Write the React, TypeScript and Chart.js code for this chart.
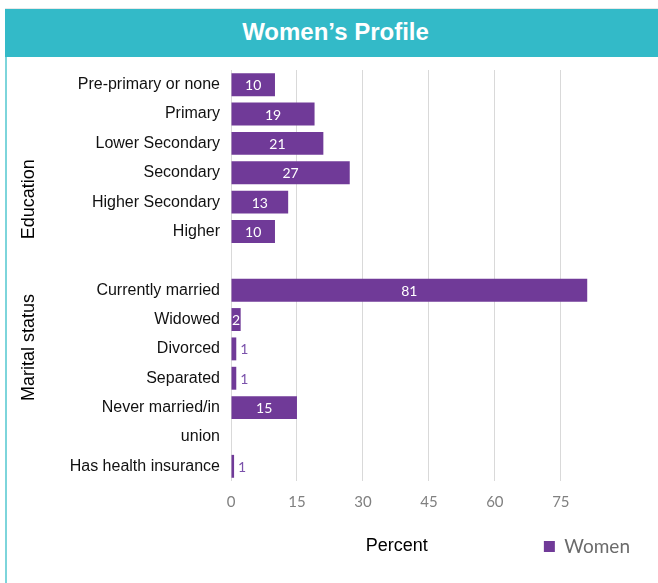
import React, { useEffect, useRef } from "react";
import { Chart, registerables } from "chart.js";

Chart.register(...registerables);

const categories: string[] = [
  "Pre-primary or none",
  "Primary",
  "Lower Secondary",
  "Secondary",
  "Higher Secondary",
  "Higher",
  "",
  "Currently married",
  "Widowed",
  "Divorced",
  "Separated",
  "Never married/in",
  "union",
  "Has health insurance",
];

const womenValues: (number | null)[] = [10, 19, 21, 27, 13, 10, null, 81, 2.2, 1.2, 1.2, 15, null, 0.7];

const xTickValues: number[] = [0, 15, 30, 45, 60, 75];

const groupLabels: string[] = ["Education", "Marital status"];
const groupCenters: number[] = [3.9, 8.95];

const seriesName = "Women";
const axisTitle = "Percent";
const chartTitle = "Women\u2019s Profile";

const PURPLE = "#703a98";

export default function App() {
  const ref = useRef<HTMLCanvasElement | null>(null);

  useEffect(() => {
    if (!ref.current) return;
    const extras = {
      id: "extras",
      afterDatasetsDraw(chart: any) {
        const ctx = chart.ctx;
        const meta = chart.getDatasetMeta(0);
        ctx.save();
        ctx.font = "14px Lato";
        ctx.textBaseline = "middle";
        meta.data.forEach((bar: any, i: number) => {
          const v = womenValues[i];
          if (v === null || v === undefined) return;
          const label = String(Math.round(v));
          if (v >= 2) {
            ctx.fillStyle = "#ffffff";
            ctx.textAlign = "center";
            ctx.fillText(label, (bar.x + bar.base) / 2, bar.y + 1);
          } else {
            ctx.fillStyle = "#7b52ab";
            ctx.textAlign = "left";
            ctx.fillText(label, bar.x + 4, bar.y + 1);
          }
        });
        ctx.restore();
      },
      afterDraw(chart: any) {
        const ctx = chart.ctx;
        const y = chart.scales.y;
        const area = chart.chartArea;
        ctx.save();
        ctx.fillStyle = "#000000";
        ctx.font = "18px 'Liberation Sans', Arial";
        ctx.textAlign = "center";
        ctx.textBaseline = "middle";
        groupLabels.forEach((g, i) => {
          const cy = y.getPixelForValue(groupCenters[i]);
          ctx.save();
          ctx.translate(29, cy);
          ctx.rotate(-Math.PI / 2);
          ctx.fillText(g, 0, 0);
          ctx.restore();
        });
        const legendItem = chart.legend && chart.legend.legendHitBoxes && chart.legend.legendHitBoxes[0];
        const ty = legendItem ? legendItem.top + legendItem.height / 2 : area.bottom + 65;
        ctx.fillText(axisTitle, area.left + (area.right - area.left) * 0.405, ty);
        ctx.restore();
      },
    };

    const chart = new Chart(ref.current, {
      type: "bar",
      data: {
        labels: categories,
        datasets: [
          {
            label: seriesName,
            data: womenValues,
            backgroundColor: PURPLE,
            borderWidth: 0,
            barPercentage: 0.78,
            categoryPercentage: 1,
          },
        ],
      },
      options: {
        indexAxis: "y",
        responsive: false,
        animation: false,
        layout: { padding: { left: 0, right: 18, top: 13, bottom: 17 } },
        scales: {
          x: {
            min: 0,
            max: 93,
            afterBuildTicks(scale: any) {
              scale.ticks = xTickValues.map((v) => ({ value: v }));
            },
            afterFit(scale: any) {
              scale.height = 46;
            },
            grid: { color: "#d9d9d9", lineWidth: 1, drawTicks: false },
            border: { display: false },
            ticks: {
              color: "#808080",
              font: { family: "Lato", size: 15 },
              padding: 12,
            },
          },
          y: {
            afterFit(scale: any) {
              scale.width = 231;
              scale.paddingTop = 0;
              scale.paddingBottom = 0;
            },
            grid: { display: false, drawTicks: false },
            border: { display: false },
            ticks: {
              color: "#111111",
              font: { family: "'Liberation Sans', Arial", size: 16 },
              padding: 11,
              autoSkip: false,
            },
          },
        },
        plugins: {
          legend: {
            display: true,
            position: "bottom",
            align: "end",
            labels: {
              boxWidth: 11,
              boxHeight: 11,
              color: "#6b6b6b",
              font: { family: "Lato", size: 19 },
              padding: 10,
            },
          },
          tooltip: { enabled: false },
          title: { display: false },
        },
      },
      plugins: [extras],
    });
    return () => chart.destroy();
  }, []);

  return (
    <div style={{ position: "fixed", left: 0, top: 0, width: 658, height: 583, background: "#ffffff", overflow: "hidden" }}>
      <div style={{ position: "absolute", left: 5, top: 8, width: 653, height: 1, background: "#e8e8e8" }} />
      <div
        style={{
          position: "absolute",
          left: 5,
          top: 9,
          width: 653,
          height: 48,
          background: "#33bac8",
          color: "#ffffff",
          fontFamily: "'Liberation Sans', Arial, sans-serif",
          fontWeight: "bold",
          fontSize: 24,
          lineHeight: "46px",
          textAlign: "center",
          boxSizing: "border-box",
        }}
      >
        <span style={{ position: "relative", left: 4 }}>{chartTitle}</span>
      </div>
      <div style={{ position: "absolute", left: 0, top: 57, width: 658, height: 526 }}>
        <canvas ref={ref} width={658} height={526} style={{ display: "block" }} />
      </div>
      <div style={{ position: "absolute", left: 5, top: 57, width: 2, height: 526, background: "#7dd5db" }} />
    </div>
  );
}
